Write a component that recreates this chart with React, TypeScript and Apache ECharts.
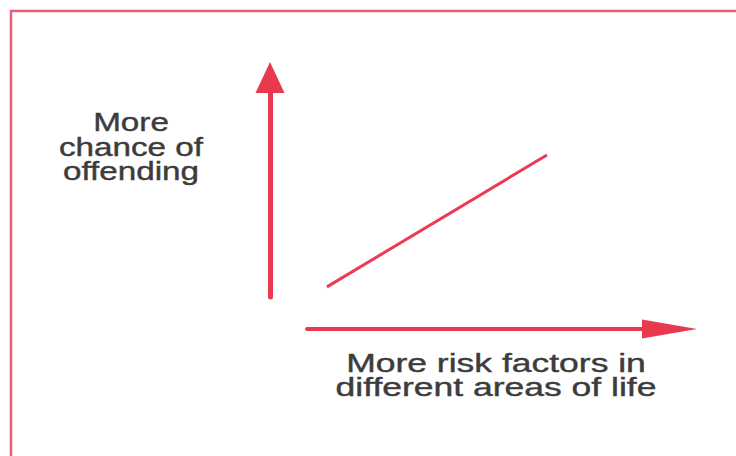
import React, { useEffect, useRef } from "react";
import * as echarts from "echarts";

// Axis domains (abstract, unitless)
const xDomain = [0, 10];
const yDomain = [0, 10];

// Trend line endpoints
const trendX = [0.55, 6.62];
const trendY = [0.46, 6.47];

// Labels
const yLabelLines = ["More", "chance of", "offending"];
const xLabelLines = ["More risk factors in", "different areas of life"];

const ARROW_RED = "#e8394f";
const LINE_RED = "#ec3b56";
const BORDER_RED = "#e4607a";
const TEXT_GRAY = "#3c3c3c";

export default function App() {
  const ref = useRef<HTMLDivElement>(null);

  useEffect(() => {
    if (!ref.current) return;
    const chart = echarts.init(ref.current, undefined, { renderer: "svg" });
    const trendData = trendX.map((x, i) => [x, trendY[i]]);
    const font = '25px "Liberation Sans", Arial, Helvetica, sans-serif';
    chart.setOption({
      animation: false,
      backgroundColor: "#ffffff",
      grid: { left: 307, right: 66.5, top: 77.5, bottom: 159 },
      xAxis: {
        type: "value",
        min: xDomain[0],
        max: xDomain[1],
        offset: 32,
        axisLine: {
          show: true,
          onZero: false,
          symbol: ["none", "triangle"],
          symbolSize: [19, 55],
          lineStyle: { color: ARROW_RED, width: 4 },
        },
        axisTick: { show: false },
        axisLabel: { show: false },
        splitLine: { show: false },
      },
      yAxis: {
        type: "value",
        min: yDomain[0],
        max: yDomain[1],
        offset: 37,
        axisLine: {
          show: true,
          onZero: false,
          symbol: ["none", "triangle"],
          symbolSize: [29, 31],
          lineStyle: { color: ARROW_RED, width: 5 },
        },
        axisTick: { show: false },
        axisLabel: { show: false },
        splitLine: { show: false },
      },
      series: [
        {
          type: "line",
          data: trendData,
          symbol: "none",
          showSymbol: false,
          lineStyle: { color: LINE_RED, width: 3 },
          silent: true,
        },
      ],
      graphic: [
        {
          type: "rect",
          shape: { x: 11, y: 11, width: 780, height: 480 },
          style: { fill: "none", stroke: BORDER_RED, lineWidth: 2.5 },
          silent: true,
        },
        {
          type: "text",
          x: 131,
          y: 147,
          scaleX: 1.33,
          style: {
            text: yLabelLines.join("\n"),
            font,
            fill: TEXT_GRAY,
            stroke: TEXT_GRAY,
            lineWidth: 0.4,
            align: "center",
            verticalAlign: "middle",
            textAlign: "center",
            textVerticalAlign: "middle",
            lineHeight: 24.5,
          },
          silent: true,
        },
        {
          type: "text",
          x: 496,
          y: 375,
          scaleX: 1.42,
          style: {
            text: xLabelLines.join("\n"),
            font,
            fill: TEXT_GRAY,
            stroke: TEXT_GRAY,
            lineWidth: 0.4,
            align: "center",
            verticalAlign: "middle",
            textAlign: "center",
            textVerticalAlign: "middle",
            lineHeight: 24,
          },
          silent: true,
        },
      ],
    });
    return () => chart.dispose();
  }, []);

  return (
    <div
      ref={ref}
      style={{ position: "absolute", left: 0, top: 0, width: 736, height: 456 }}
    />
  );
}
